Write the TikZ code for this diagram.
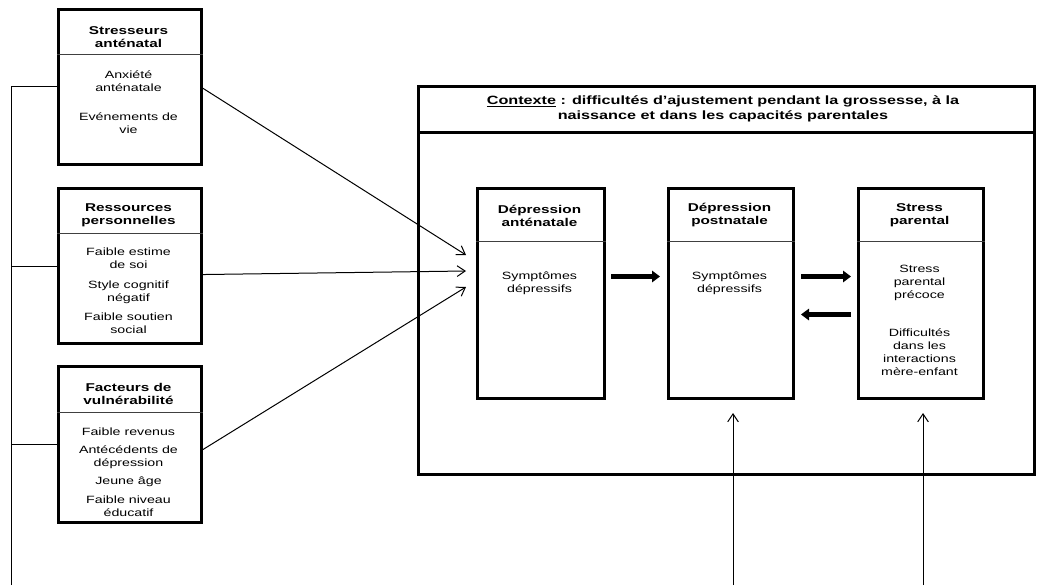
\documentclass[tikz,border=0pt]{standalone}
\usepackage{fontspec}
\setmainfont{Liberation Sans}[FakeStretch=1.35]
\usetikzlibrary{arrows.meta}

\begin{document}
\begin{tikzpicture}[x=0.75pt,y=-0.75pt,
        box/.style={draw,line width=2.25pt,anchor=north west,inner sep=0pt},
        head/.style={align=center,font=\bfseries\fontsize{8.5}{9.75}\selectfont},
        body/.style={align=center,font=\fontsize{7.9}{9.75}\selectfont},
        rule/.style={line width=0.75pt,black!75},
        link/.style={line width=0.75pt},
        thinarrow/.style={line width=0.75pt,-{Straight Barb[length=6pt,width=8pt]}},
        boldarrow/.style={line width=3.75pt,-{Triangle[length=6pt,width=8.5pt]}}]
    \useasboundingbox (0,0) rectangle (1038,585);

    % left column
    \node[box,minimum width=143*0.75pt,minimum height=155*0.75pt] (s1) at (57,8) {};
    \node[box,minimum width=143*0.75pt,minimum height=155*0.75pt] (s2) at (57,187) {};
    \node[box,minimum width=143*0.75pt,minimum height=156*0.75pt] (s3) at (57,365) {};
    \draw[rule] (s1.west |- 0,55) -- (s1.east |- 0,55);
    \draw[rule] (s2.west |- 0,233) -- (s2.east |- 0,233);
    \draw[rule] (s3.west |- 0,412) -- (s3.east |- 0,412);

    \node[head] (s1h) at (128.5,37) {Stresseurs\\anténatal};
    \node[body] (s1b) at (128.5,102) {Anxiété\\anténatale\\[12pt]Evénements de\\vie};
    \node[head] (s2h) at (128.5,215.5) {Ressources\\personnelles};
    \node[body] (s2b) at (128.5,291) {Faible estime\\de soi\\[5pt]Style cognitif\\négatif\\[5pt]Faible soutien\\social};
    \node[head] (s3h) at (128.5,394) {Facteurs de\\vulnérabilité};
    \node[body] (s3b) at (128.5,472) {Faible revenus\\[4pt]Antécédents de\\dépression\\[4pt]Jeune âge\\[4pt]Faible niveau\\éducatif};

    % context
    \node[box,minimum width=616*0.75pt,minimum height=388*0.75pt] (ctx) at (417,85) {};
    \draw[line width=2.25pt] (ctx.west |- 0,132) -- (ctx.east |- 0,132);
    \node[head,font=\bfseries\fontsize{9}{11.25}\selectfont] (ctxh) at (723,108.5)
        {\underline{Contexte} : difficultés d’ajustement pendant la grossesse, à la\\naissance et dans les capacités parentales};

    \node[box,minimum width=127*0.75pt,minimum height=210*0.75pt] (dA) at (476,187) {};
    \node[box,minimum width=125*0.75pt,minimum height=210*0.75pt] (dB) at (667,187) {};
    \node[box,minimum width=125*0.75pt,minimum height=210*0.75pt] (sp) at (857,187) {};
    \draw[rule] (dA.west |- 0,241) -- (dA.east |- 0,241);
    \draw[rule] (dB.west |- 0,241) -- (dB.east |- 0,241);
    \draw[rule] (sp.west |- 0,241) -- (sp.east |- 0,241);

    \node[head] (dAh) at (539.5,215.5) {Dépression\\anténatale};
    \node[body] (dAb) at (539.5,283) {Symptômes\\dépressifs};
    \node[head] (dBh) at (729.5,215.5) {Dépression\\postnatale};
    \node[body] (dBb) at (729.5,283) {Symptômes\\dépressifs};
    \node[head] (sph) at (919.5,215.5) {Stress\\parental};
    \node[body] (spb) at (919.5,320.5) {Stress\\parental\\précoce\\[19pt]Difficultés\\dans les\\interactions\\mère-enfant};

    % bus on the left
    \coordinate (bus) at (11,585);
    \draw[link] (bus) -- (bus |- s1.west) -- (s1.west);
    \draw[link] (bus |- s2.west) -- (s2.west);
    \draw[link] (bus |- s3.west) -- (s3.west);

    % arrows into the antenatal box
    \coordinate (in1) at (466,255);
    \coordinate (in2) at (466,271);
    \coordinate (in3) at (466,287);
    \draw[thinarrow] ([yshift=-1pt]s1.east) -- (in1);
    \draw[thinarrow] ([yshift=-6.4pt]s2.east) -- (in2);
    \draw[thinarrow] ([yshift=-3.75pt]s3.east) -- (in3);

    % arrows between the boxes
    \draw[boldarrow] ([xshift=3.75pt,yshift=12.75pt]dA.east) -- ([xshift=-5.25pt,yshift=12.75pt]dB.west);
    \draw[boldarrow] ([xshift=4.5pt,yshift=12.75pt]dB.east) -- ([xshift=-4.5pt,yshift=12.75pt]sp.west);
    \draw[boldarrow] ([xshift=-4.5pt,yshift=-15.75pt]sp.west) -- ([xshift=4.5pt,yshift=-15.75pt]dB.east);

    % arrows from below
    \coordinate (pB) at (733,585);
    \coordinate (pC) at (923,585);
    \draw[thinarrow] (pB) -- (pB |- 0,413);
    \draw[thinarrow] (pC) -- (pC |- 0,413);
\end{tikzpicture}
\end{document}
